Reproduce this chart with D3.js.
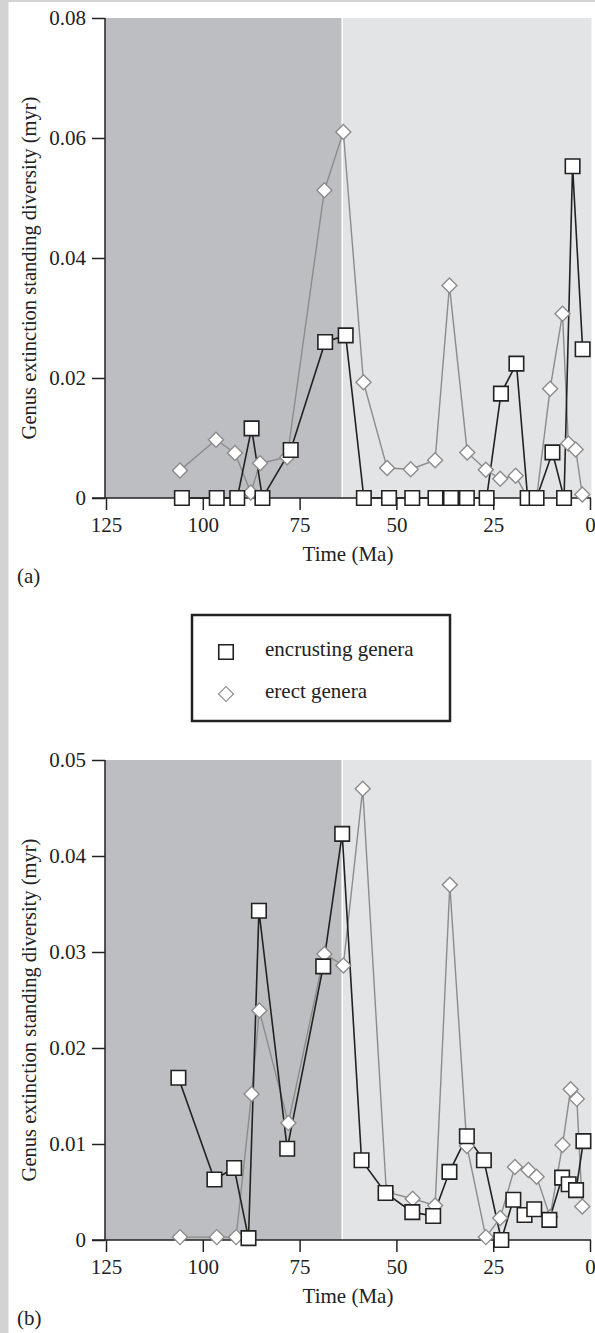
<!DOCTYPE html>
<html>
<head>
<meta charset="utf-8">
<script src="https://cdn.jsdelivr.net/npm/d3@7"></script>
<style>
  body { margin: 0; background: #fff; }
  svg { display: block; font-family: "Liberation Serif", "DejaVu Serif", serif; }
</style>
</head>
<body>
<div id="content"></div>
<script>
(function(){

  // ---------- data (ages in Ma, values in extinctions per genus per myr) ----------
  var timeTicks = [125, 100, 75, 50, 25, 0];
  var boundaryAge = 64;   // edge of the dark band

  var ticksA = [0, 0.02, 0.04, 0.06, 0.08];
  var ticksB = [0, 0.01, 0.02, 0.03, 0.04, 0.05];

  // panel (a)
  var encAgesA = [105.4, 96.4, 91.1, 87.4, 84.6, 77.3, 68.4, 63.1, 58.4, 51.9, 45.9, 39.9, 35.9, 31.8, 26.7, 23.0, 19.0, 16.1, 13.8, 9.7, 6.7, 4.5, 1.9];
  var encValsA = [0, 0, 0, 0.0116, 0, 0.008, 0.026, 0.0271, 0, 0, 0, 0, 0, 0, 0, 0.0174, 0.0224, 0, 0, 0.0076, 0, 0.0553, 0.0248];
  var erectAgesA = [105.9, 96.6, 91.7, 87.6, 85.2, 78.2, 68.6, 63.7, 58.5, 52.4, 46.3, 40.0, 36.3, 31.7, 26.9, 23.2, 19.2, 16.1, 13.8, 10.3, 7.1, 5.6, 3.7, 2.0];
  var erectValsA = [0.0046, 0.0097, 0.0075, 0.0009, 0.0058, 0.0068, 0.0513, 0.061, 0.0193, 0.005, 0.0048, 0.0063, 0.0354, 0.0076, 0.0047, 0.0032, 0.0037, 0, 0, 0.0182, 0.0307, 0.0091, 0.0081, 0.0006];

  // panel (b)
  var encAgesB = [106.3, 97.0, 91.9, 88.2, 85.5, 78.2, 68.9, 64.0, 59.0, 52.8, 45.9, 40.5, 36.3, 31.8, 27.4, 22.9, 19.8, 16.9, 14.4, 10.5, 7.2, 5.5, 3.6, 1.7];
  var encValsB = [0.0169, 0.0063, 0.0075, 0.0002, 0.0343, 0.0095, 0.0285, 0.0423, 0.0083, 0.0049, 0.0029, 0.0025, 0.0071, 0.0108, 0.0083, 0, 0.0042, 0.0026, 0.0032, 0.0021, 0.0065, 0.0058, 0.0052, 0.0103];
  var erectAgesB = [105.9, 96.4, 91.4, 87.4, 85.4, 77.9, 68.6, 63.7, 58.7, 52.6, 45.8, 40.0, 36.2, 31.8, 26.9, 23.2, 19.4, 15.9, 13.8, 10.3, 7.1, 5.0, 3.4, 2.0];
  var erectValsB = [0.0003, 0.0003, 0.0003, 0.0152, 0.0239, 0.0122, 0.0298, 0.0286, 0.047, 0.005, 0.0043, 0.0036, 0.037, 0.0098, 0.0003, 0.0023, 0.0076, 0.0073, 0.0066, 0.0024, 0.0099, 0.0157, 0.0147, 0.0035];

  var legendLabels = ["encrusting genera", "erect genera"];

  // ---------- setup ----------
  var width = 595, height = 1333;
  var fontSize = 21;
  var ink = "#222", grey = "#8c8c8c";

  var svg = d3.select("#content").append("svg")
      .attr("width", width)
      .attr("height", height);

  // page frame strips
  svg.append("rect").attr("x", 0).attr("y", 0).attr("width", 8.5).attr("height", height).attr("fill", "#d2d3d5");
  svg.append("rect").attr("x", 0).attr("y", 0).attr("width", width).attr("height", 2).attr("fill", "#d2d3d5");

  var x = d3.scaleLinear().domain([125, 0]).range([106, 590]);

  var squareSym = d3.symbol().type(d3.symbolSquare).size(14.5 * 14.5);
  var diamondSym = d3.symbol().type(d3.symbolSquare).size(10.6 * 10.6);

  function zip(ages, vals) {
    return ages.map(function(a, i) { return {age: a, v: vals[i]}; });
  }

  function drawPanel(opts) {
    var y = d3.scaleLinear().domain([0, opts.yMax]).range([opts.bottom, opts.top]);
    var g = svg.append("g");

    // background bands
    g.append("rect")
        .attr("x", x(125) - 1).attr("y", opts.top)
        .attr("width", x(boundaryAge) - x(125) + 1).attr("height", opts.bottom - opts.top)
        .attr("fill", "#bdbec1");
    g.append("rect")
        .attr("x", x(boundaryAge)).attr("y", opts.top)
        .attr("width", x(0) + 1.5 - x(boundaryAge)).attr("height", opts.bottom - opts.top)
        .attr("fill", "#e3e4e6");
    g.append("line")
        .attr("x1", x(boundaryAge)).attr("x2", x(boundaryAge))
        .attr("y1", opts.top).attr("y2", opts.bottom)
        .attr("stroke", "#fff").attr("stroke-width", 1.5);

    // axes
    var yAxis = d3.axisLeft(y).tickValues(opts.ticks).tickSize(13).tickPadding(6)
        .tickFormat(function(d) { return d === 0 ? "0" : d3.format(".2f")(d); });
    var xAxis = d3.axisBottom(x).tickValues(timeTicks).tickSize(12).tickPadding(7)
        .tickFormat(d3.format("d"));

    var ya = g.append("g")
        .attr("transform", "translate(" + (x(125) - 1) + ",0)")
        .call(yAxis);
    var xa = g.append("g")
        .attr("transform", "translate(0," + opts.bottom + ")")
        .call(xAxis);

    [ya, xa].forEach(function(a) {
      a.select(".domain").remove();
      a.selectAll(".tick line").attr("stroke", ink).attr("stroke-width", 1.5);
      a.selectAll("text")
          .attr("fill", ink)
          .style("font-family", "Liberation Serif")
          .style("font-size", fontSize + "px");
    });

    g.append("line")
        .attr("x1", x(125) - 1).attr("x2", x(125) - 1)
        .attr("y1", opts.top).attr("y2", opts.bottom)
        .attr("stroke", ink).attr("stroke-width", 1.5);
    g.append("line")
        .attr("x1", x(125) - 14).attr("x2", x(0) + 1)
        .attr("y1", opts.bottom).attr("y2", opts.bottom)
        .attr("stroke", ink).attr("stroke-width", 1.5);

    // axis titles
    g.append("text")
        .attr("x", (x(125) + x(0)) / 2)
        .attr("y", opts.bottom + 63)
        .attr("text-anchor", "middle")
        .attr("fill", ink)
        .style("font-size", fontSize + "px")
        .text("Time (Ma)");

    g.append("text")
        .attr("transform", "translate(36," + ((opts.top + opts.bottom) / 2 + 10) + ") rotate(-90)")
        .attr("text-anchor", "middle")
        .attr("fill", ink)
        .style("font-size", "20.5px")
        .text("Genus extinction standing diversity (myr)");

    g.append("text")
        .attr("x", 17)
        .attr("y", opts.bottom + 85)
        .attr("fill", ink)
        .style("font-size", fontSize + "px")
        .text(opts.label);

    // series
    var line = d3.line()
        .x(function(d) { return x(d.age); })
        .y(function(d) { return y(d.v); });

    var erect = zip(opts.erectAges, opts.erectVals);
    var enc = zip(opts.encAges, opts.encVals);

    g.append("path")
        .datum(erect)
        .attr("d", line)
        .attr("fill", "none")
        .attr("stroke", grey)
        .attr("stroke-width", 1.4);

    g.append("path")
        .datum(enc)
        .attr("d", line)
        .attr("fill", "none")
        .attr("stroke", ink)
        .attr("stroke-width", 1.6);

    g.selectAll(".dia")
        .data(erect)
      .enter().append("path")
        .attr("class", "dia")
        .attr("d", diamondSym)
        .attr("transform", function(d) { return "translate(" + x(d.age) + "," + y(d.v) + ") rotate(45)"; })
        .attr("fill", "#fff")
        .attr("stroke", grey)
        .attr("stroke-width", 1.4);

    g.selectAll(".sq")
        .data(enc)
      .enter().append("path")
        .attr("class", "sq")
        .attr("d", squareSym)
        .attr("transform", function(d) { return "translate(" + x(d.age) + "," + y(d.v) + ")"; })
        .attr("fill", "#fff")
        .attr("stroke", ink)
        .attr("stroke-width", 1.6);
  }

  drawPanel({
    top: 18, bottom: 498, yMax: 0.08, ticks: ticksA, label: "(a)",
    encAges: encAgesA, encVals: encValsA, erectAges: erectAgesA, erectVals: erectValsA
  });

  drawPanel({
    top: 760, bottom: 1240, yMax: 0.05, ticks: ticksB, label: "(b)",
    encAges: encAgesB, encVals: encValsB, erectAges: erectAgesB, erectVals: erectValsB
  });

  // ---------- legend ----------
  var legend = svg.append("g");
  legend.append("rect")
      .attr("x", 192).attr("y", 615)
      .attr("width", 258).attr("height", 106)
      .attr("fill", "#fff")
      .attr("stroke", ink)
      .attr("stroke-width", 2.5);

  var items = legend.selectAll(".item")
      .data(legendLabels)
    .enter().append("g")
      .attr("class", "item")
      .attr("transform", function(d, i) { return "translate(226," + (652 + i * 42) + ")"; });

  items.append("path")
      .attr("d", function(d, i) { return i === 0 ? squareSym() : diamondSym(); })
      .attr("transform", function(d, i) { return i === 0 ? "" : "rotate(45)"; })
      .attr("fill", "#fff")
      .attr("stroke", function(d, i) { return i === 0 ? ink : grey; })
      .attr("stroke-width", function(d, i) { return i === 0 ? 1.6 : 1.2; });

  items.append("text")
      .attr("x", 39)
      .attr("y", 4)
      .attr("fill", ink)
      .style("font-size", fontSize + "px")
      .text(function(d) { return d; });

})();
</script>
</body>
</html>
